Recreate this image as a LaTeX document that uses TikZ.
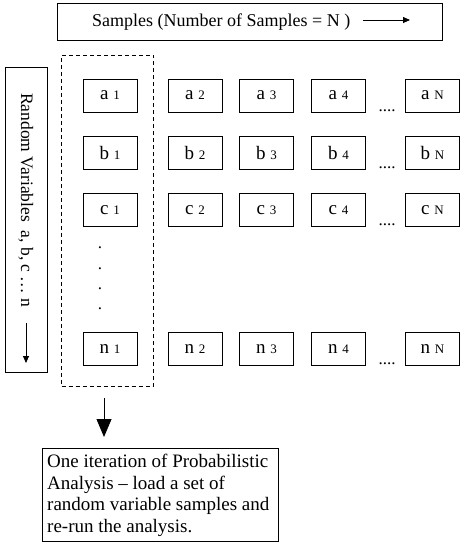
\documentclass[tikz,border=0pt]{standalone}
\usepackage{fontspec}
\setmainfont{Liberation Serif}
\usetikzlibrary{arrows.meta}
\begin{document}
\begin{tikzpicture}[x=1pt,y=-1pt,
  frame/.style={draw,line width=0.8pt,inner sep=0pt},
  cell/.style={draw,line width=0.8pt,minimum width=54pt,minimum height=33pt,inner sep=0pt,font=\fontsize{19}{21}\selectfont},
  smallarrow/.style={-{Triangle[length=7pt,width=6pt]},line width=0.8pt},
  bigarrow/.style={-{Triangle[length=18pt,width=15pt]},line width=0.8pt},
  dotsl/.style={font=\fontsize{17}{18}\selectfont,inner sep=0pt,anchor=base}]
\useasboundingbox (0,0) rectangle (463,544);
% top frame
\node[frame,minimum width=385pt,minimum height=37pt] (top) at (249.5,21.5) {};
\node[font=\fontsize{18}{20}\selectfont,anchor=base west,inner sep=0pt] (toptext) at (92,26) {Samples (Number of Samples = N )};
\coordinate (ta) at (363,20);
\coordinate (tb) at (410,20);
\draw[smallarrow] (ta) -- (tb);
% left frame
\node[frame,minimum width=42pt,minimum height=305pt] (left) at (26,219.5) {};
\node[font=\fontsize{17.5}{20}\selectfont,rotate=-90,anchor=base west,inner sep=0pt] (lefttext) at (21,93) {Random Variables\ \ a, b, c … n};
\coordinate (la) at (26,323);
\coordinate (lb) at (26,363);
\draw[smallarrow] (la) -- (lb);
% dashed frame
\node[draw,dashed,dash pattern=on 4pt off 3pt,line width=0.8pt,minimum width=92pt,minimum height=331pt,inner sep=0pt] (dash) at (107.5,220.5) {};
% cells
\foreach \r/\y in {a/95.5,b/153,c/210,n/349}{
  \foreach \c/\lab/\x in {1/1/110,2/2/195,3/3/266.5,4/4/338.5,N/N/432.5}{
    \node[cell] (\r\c) at (\x,\y) {\r\ {\fontsize{13}{14}\selectfont\lab}};
  }
  \node[dotsl] (dots\r) at (387,\y+15.5) {....};
}
% vertical dots
\foreach \i/\y in {1/248,2/269,3/289,4/309}{
  \node[dotsl] (vd\i) at (100,\y) {.};
}
% down arrow
\coordinate (da) at (104,398);
\coordinate (db) at (104,437);
\draw[bigarrow] (da) -- (db);
% bottom frame
\node[frame,minimum width=236pt,minimum height=93pt] (bot) at (160,494.5) {};
\node[font=\fontsize{19}{21.7}\selectfont,anchor=north west,align=left,inner sep=0pt] (bottext) at (47,454) {One iteration of Probabilistic\\Analysis – load a set of\\random variable samples and\\re-run the analysis.};
\end{tikzpicture}
\end{document}
